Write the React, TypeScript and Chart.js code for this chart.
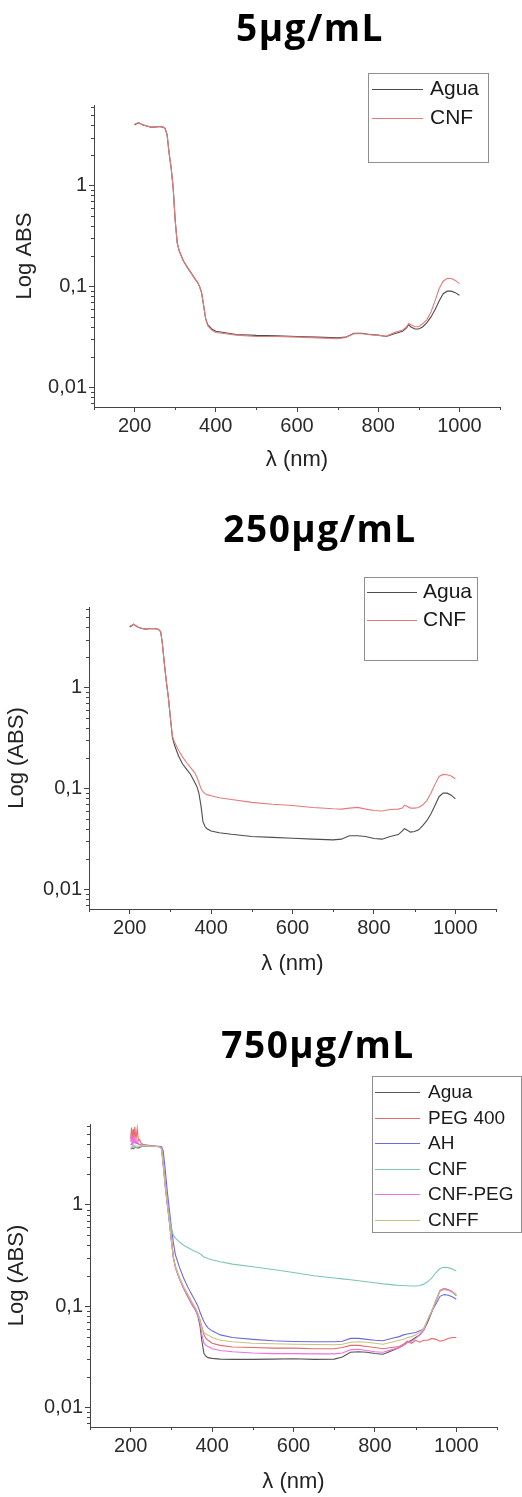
import React, { useEffect, useRef } from 'react';
import { Chart, registerables } from 'chart.js';

Chart.register(...registerables);

const FONT = '"Liberation Sans", Arial, sans-serif';

// ---------- data ----------
const X_MAJOR = [200, 400, 600, 800, 1000];
const Y_MAJOR = [0.01, 0.1, 1];
const Y_LABELS = ['0,01', '0,1', '1'];

const WL_5 = [200,205,210,215,220,230,240,250,260,270, 275,280,285,290,295,300,305,310, 320,330,340,350, 355,360,365,370,375,380, 390,400, 420,450,500,550,600,650,700, 720,740,760,780,800,820,840,860, 870,875,880,890,900, 910,920,930,940,950,960,970,980,990,1000];
const AGUA_5 = [4.0,4.1,4.2,4.1,4.0,3.9,3.8,3.8,3.85,3.8, 3.7,3.2,2.1,1.5,0.95,0.45,0.27,0.225, 0.18,0.155,0.135,0.117, 0.11,0.1,0.087,0.065,0.048,0.042, 0.038,0.036, 0.035,0.0335,0.0328,0.0325,0.032,0.0315,0.031, 0.0315,0.0345,0.0345,0.0335,0.033,0.032,0.034,0.036, 0.039,0.042,0.04,0.038,0.038, 0.04,0.044,0.05,0.059,0.072,0.085,0.09,0.09,0.087,0.082];
const CNF_5 = [4.05,4.15,4.2,4.1,4.0,3.9,3.8,3.8,3.85,3.8, 3.7,3.2,2.1,1.5,0.95,0.45,0.27,0.225, 0.18,0.155,0.135,0.117, 0.11,0.1,0.087,0.065,0.048,0.041, 0.037,0.035, 0.0343,0.033,0.032,0.032,0.0315,0.031,0.0305, 0.0312,0.034,0.034,0.0333,0.0328,0.0323,0.035,0.037, 0.04,0.043,0.042,0.04,0.04, 0.043,0.047,0.056,0.072,0.095,0.113,0.121,0.12,0.115,0.107];

const WL_250 = [200,205,210,215,220,230,240,250,260,270, 276,280,285,290,295,300,305,310, 320,330,340,350, 360,365,370,375,380,385, 390,400, 420,450,500,550,600,650,700, 720,740,760,780,800,820,840,860, 870,875,880,890,900, 910,920,930,940,950,960,970,980,990,1000];
const AGUA_250 = [4.0,4.1,4.25,4.1,4.0,3.85,3.8,3.85,3.85,3.8, 3.6,2.8,1.75,1.15,0.8,0.5,0.32,0.27, 0.21,0.175,0.155,0.137, 0.115,0.105,0.09,0.068,0.047,0.042, 0.04,0.038, 0.0365,0.0352,0.0335,0.0328,0.0322,0.0315,0.031, 0.0315,0.034,0.034,0.0335,0.032,0.0315,0.0335,0.035, 0.038,0.04,0.039,0.037,0.0375, 0.039,0.043,0.048,0.056,0.068,0.083,0.09,0.09,0.086,0.079];
const CNF_250 = [4.05,4.15,4.25,4.1,4.0,3.85,3.8,3.85,3.85,3.8, 3.6,2.8,1.75,1.15,0.8,0.5,0.33,0.29, 0.24,0.205,0.18,0.16, 0.143,0.13,0.115,0.1,0.093,0.089, 0.087,0.085, 0.081,0.078,0.073,0.07,0.068,0.065,0.063, 0.0625,0.064,0.065,0.0625,0.0605,0.06,0.062,0.0625, 0.064,0.068,0.067,0.064,0.064, 0.065,0.069,0.076,0.09,0.11,0.132,0.138,0.137,0.133,0.125];

const WL_750 = [200,202,204,206,208,210,213,216,219,222,225,230,240,250,260,270, 276,280,285,290,295,300,305,310, 320,330,340,350,360,365,370,375,380,385,390, 400,420,450,500,550,600,650,700, 720,740,760,780,800,820,840,860, 870,880,890,900,910,920,930,940,950,960,970,980,990,1000];
const AGUA_750 = [3.6,3.6,3.65,3.6,3.65,3.7,3.7,3.65,3.65,3.7,3.75,3.8,3.85,3.8,3.8,3.75, 3.6,2.6,1.6,1.05,0.7,0.45,0.3,0.24, 0.185,0.15,0.125,0.105,0.09,0.08,0.065,0.045,0.034,0.032,0.031, 0.0305,0.03,0.0298,0.0298,0.03,0.0302,0.0298,0.03, 0.0315,0.035,0.0355,0.035,0.034,0.0335,0.036,0.039, 0.041,0.044,0.046,0.049,0.052,0.058,0.07,0.088,0.112,0.142,0.148,0.145,0.138,0.127];
const PEG400_750 = [4.5,5.8,4.3,5.6,4.2,5.9,4.4,5.7,4.3,4.4,4.1,3.95,3.9,3.85,3.8,3.75, 3.6,2.4,1.5,1.0,0.68,0.44,0.3,0.245, 0.19,0.155,0.13,0.11,0.093,0.084,0.074,0.062,0.052,0.048,0.046, 0.043,0.041,0.0395,0.039,0.0385,0.0385,0.038,0.038, 0.039,0.041,0.041,0.04,0.039,0.038,0.039,0.04, 0.042,0.045,0.043,0.046,0.044,0.046,0.046,0.048,0.047,0.045,0.046,0.048,0.049,0.049];
const AH_750 = [3.9,4.0,4.1,4.2,4.3,4.2,4.1,4.05,4.0,3.95,3.9,3.9,3.85,3.85,3.8,3.8, 3.75,3.4,2.2,1.35,0.9,0.6,0.42,0.32, 0.24,0.19,0.155,0.13,0.11,0.1,0.088,0.078,0.07,0.065,0.061, 0.057,0.052,0.049,0.047,0.0455,0.0448,0.0445,0.0445, 0.045,0.048,0.048,0.047,0.046,0.0455,0.048,0.05, 0.052,0.053,0.054,0.055,0.057,0.06,0.072,0.09,0.105,0.125,0.13,0.128,0.124,0.117];
const CNF_750 = [3.6,3.65,3.7,3.65,3.7,3.75,3.7,3.7,3.75,3.75,3.8,3.8,3.85,3.8,3.8,3.75, 3.6,2.6,1.6,1.05,0.75,0.58,0.5,0.47, 0.43,0.4,0.38,0.36,0.345,0.338,0.33,0.318,0.305,0.3,0.295, 0.287,0.275,0.26,0.245,0.23,0.215,0.2,0.19, 0.186,0.182,0.178,0.174,0.17,0.166,0.163,0.16, 0.16,0.159,0.158,0.158,0.16,0.165,0.175,0.19,0.215,0.235,0.242,0.24,0.233,0.222];
const CNFPEG_750 = [4.2,5.0,4.0,4.6,4.1,4.4,4.1,4.3,4.0,3.95,3.9,3.9,3.85,3.8,3.8,3.75, 3.6,2.5,1.55,1.02,0.69,0.44,0.3,0.24, 0.185,0.15,0.125,0.105,0.09,0.081,0.07,0.052,0.043,0.041,0.04, 0.038,0.0365,0.0355,0.0345,0.034,0.034,0.0338,0.0338, 0.0345,0.037,0.0375,0.0365,0.0355,0.035,0.037,0.039, 0.041,0.044,0.045,0.048,0.052,0.058,0.074,0.09,0.115,0.143,0.15,0.146,0.14,0.13];
const CNFF_750 = [3.7,3.75,3.8,3.8,3.85,3.85,3.8,3.8,3.8,3.8,3.85,3.85,3.85,3.8,3.8,3.75, 3.6,2.5,1.55,1.02,0.7,0.45,0.3,0.245, 0.19,0.155,0.13,0.11,0.094,0.085,0.072,0.06,0.055,0.053,0.052, 0.049,0.046,0.0445,0.043,0.0425,0.042,0.0418,0.0415, 0.042,0.044,0.0445,0.044,0.043,0.042,0.044,0.046, 0.047,0.049,0.05,0.052,0.055,0.06,0.074,0.09,0.113,0.14,0.146,0.143,0.137,0.128];

const pts = (wl: number[], v: number[]) => wl.map((x, i) => ({ x, y: v[i] }));

// ---------- plugins ----------
const bigTitle = {
  id: 'bigTitle',
  afterDraw(chart: any, _a: any, o: any) {
    const ctx = chart.ctx;
    ctx.save();
    ctx.font = `bold ${o.size}px "Open Sans", sans-serif`;
    (ctx as any).letterSpacing = `${o.spacing}px`;
    ctx.fillStyle = '#000';
    ctx.textAlign = 'center';
    ctx.textBaseline = 'alphabetic';
    ctx.fillText(o.text, o.x, o.y);
    (ctx as any).letterSpacing = '0px';
    ctx.restore();
  },
};

const boxLegend = {
  id: 'boxLegend',
  afterDraw(chart: any, _a: any, o: any) {
    const ctx = chart.ctx;
    ctx.save();
    ctx.strokeStyle = '#8f8f8f';
    ctx.lineWidth = 1;
    ctx.strokeRect(o.x + 0.5, o.y + 0.5, o.w, o.h);
    ctx.font = `${o.size}px ${FONT}`;
    ctx.textBaseline = 'middle';
    ctx.textAlign = 'left';
    chart.data.datasets.forEach((ds: any, i: number) => {
      const y = Math.round(o.row0 + i * o.gap) + 0.5;
      ctx.strokeStyle = ds.borderColor;
      ctx.lineWidth = 1.2;
      ctx.beginPath();
      ctx.moveTo(o.lx1, y);
      ctx.lineTo(o.lx2, y);
      ctx.stroke();
      ctx.fillStyle = '#1a1a1a';
      ctx.fillText(ds.label, o.tx, y);
    });
    ctx.restore();
  },
};

const minorTicks = {
  id: 'minorTicks',
  afterDraw(chart: any) {
    const xs = chart.scales.x;
    const ys = chart.scales.y;
    const area = chart.chartArea;
    const ctx = chart.ctx;
    ctx.save();
    ctx.strokeStyle = '#444';
    ctx.lineWidth = 1;
    ctx.beginPath();
    for (let v = 100; v <= 1100; v += 100) {
      if (X_MAJOR.includes(v)) continue;
      const px = Math.round(xs.getPixelForValue(v)) + 0.5;
      ctx.moveTo(px, area.bottom);
      ctx.lineTo(px, area.bottom + 3);
    }
    for (let e = -3; e <= 0; e++) {
      for (let m = 2; m <= 9; m++) {
        const v = m * Math.pow(10, e);
        if (v < ys.min || v > ys.max) continue;
        const py = Math.round(ys.getPixelForValue(v)) + 0.5;
        ctx.moveTo(area.left - 3, py);
        ctx.lineTo(area.left, py);
      }
    }
    ctx.stroke();
    ctx.restore();
  },
};

// ---------- chart component ----------
type Cfg = {
  top: number;
  height: number;
  area: { left: number; top: number; right: number; bottom: number };
  yTitle: string;
  yTitlePad: number;
  xTitlePad: number;
  title: { text: string; x: number; y: number };
  legend: any;
  datasets: { label: string; color: string; data: { x: number; y: number }[] }[];
};

function SpectrumChart({ cfg }: { cfg: Cfg }) {
  const ref = useRef<HTMLCanvasElement | null>(null);
  useEffect(() => {
    if (!ref.current) return;
    const W = 522;
    const a = cfg.area;
    const chart = new Chart(ref.current, {
      type: 'line',
      data: {
        datasets: cfg.datasets.map((d, i) => ({
          label: d.label,
          data: d.data,
          borderColor: d.color,
          backgroundColor: d.color,
          borderWidth: 1.1,
          pointRadius: 0,
          tension: 0,
          fill: false,
          order: -i,
        })),
      },
      options: {
        responsive: false,
        animation: false,
        devicePixelRatio: 1,
        layout: { padding: { left: 0, top: a.top, right: W - a.right, bottom: 0 } },
        plugins: {
          legend: { display: false },
          title: { display: false },
          tooltip: { enabled: false },
          bigTitle: { text: cfg.title.text, x: cfg.title.x, y: cfg.title.y, size: 37, spacing: 1.5 },
          boxLegend: cfg.legend,
        } as any,
        scales: {
          x: {
            type: 'linear',
            min: 100,
            max: 1100,
            afterBuildTicks: (s: any) => {
              s.ticks = X_MAJOR.map((v) => ({ value: v }));
            },
            afterFit: (s: any) => {
              s.height = cfg.height - a.bottom;
            },
            ticks: {
              font: { size: 20, family: FONT },
              color: '#2b2b2b',
              padding: 2,
              maxRotation: 0,
              autoSkip: false,
              callback: (v: any) => String(v),
            },
            grid: { drawOnChartArea: false, drawTicks: true, tickLength: 5, color: '#444' },
            border: { display: true, color: '#444', width: 1 },
            title: {
              display: true,
              text: 'λ (nm)',
              font: { size: 22, family: FONT },
              color: '#222',
              padding: { top: 0, bottom: cfg.xTitlePad },
            },
          },
          y: {
            type: 'logarithmic',
            min: 0.0064,
            max: 6.3,
            afterBuildTicks: (s: any) => {
              s.ticks = Y_MAJOR.map((v) => ({ value: v }));
            },
            afterFit: (s: any) => {
              s.width = a.left;
            },
            ticks: {
              font: { size: 20, family: FONT },
              color: '#2b2b2b',
              padding: 2,
              autoSkip: false,
              callback: (v: any) => {
                const idx = Y_MAJOR.findIndex((m) => Math.abs(Math.log10(m) - Math.log10(Number(v))) < 1e-6);
                return idx >= 0 ? Y_LABELS[idx] : '';
              },
            },
            grid: { drawOnChartArea: false, drawTicks: true, tickLength: 5, color: '#444' },
            border: { display: true, color: '#444', width: 1 },
            title: {
              display: true,
              text: cfg.yTitle,
              font: { size: 22, family: FONT },
              color: '#222',
              padding: { top: cfg.yTitlePad, bottom: 0 },
            },
          },
        } as any,
      },
      plugins: [bigTitle, boxLegend, minorTicks] as any,
    });
    return () => chart.destroy();
  }, [cfg]);
  return (
    <canvas
      ref={ref}
      width={522}
      height={cfg.height}
      style={{ position: 'absolute', left: 0, top: cfg.top, width: 522, height: cfg.height, display: 'block' }}
    />
  );
}

const CFG_5: Cfg = {
  top: 0,
  height: 490,
  area: { left: 94, top: 105, right: 500, bottom: 407 },
  yTitle: 'Log ABS',
  yTitlePad: 12,
  xTitlePad: 17,
  title: { text: '5µg/mL', x: 310, y: 41 },
  legend: { x: 368, y: 73, w: 120, h: 89, row0: 89, gap: 29, lx1: 372, lx2: 423, tx: 430, size: 21 },
  datasets: [
    { label: 'Agua', color: '#4d4d4d', data: pts(WL_5, AGUA_5) },
    { label: 'CNF', color: '#e57b7b', data: pts(WL_5, CNF_5) },
  ],
};

const CFG_250: Cfg = {
  top: 490,
  height: 500,
  area: { left: 89, top: 117, right: 496, bottom: 419 },
  yTitle: 'Log (ABS)',
  yTitlePad: 4,
  xTitlePad: 13,
  title: { text: '250µg/mL', x: 320, y: 52 },
  legend: { x: 364, y: 87, w: 113, h: 83, row0: 102, gap: 28, lx1: 367, lx2: 417, tx: 423, size: 21 },
  datasets: [
    { label: 'Agua', color: '#4d4d4d', data: pts(WL_250, AGUA_250) },
    { label: 'CNF', color: '#e57b7b', data: pts(WL_250, CNF_250) },
  ],
};

const CFG_750: Cfg = {
  top: 990,
  height: 507,
  area: { left: 90, top: 134, right: 497, bottom: 437 },
  yTitle: 'Log (ABS)',
  yTitlePad: 4,
  xTitlePad: 2,
  title: { text: '750µg/mL', x: 318, y: 68 },
  legend: { x: 372, y: 86, w: 149, h: 156, row0: 102, gap: 25.5, lx1: 375, lx2: 420, tx: 428, size: 19 },
  datasets: [
    { label: 'Agua', color: '#555555', data: pts(WL_750, AGUA_750) },
    { label: 'PEG 400', color: '#e86a6a', data: pts(WL_750, PEG400_750) },
    { label: 'AH', color: '#6a6ae2', data: pts(WL_750, AH_750) },
    { label: 'CNF', color: '#7fc4b8', data: pts(WL_750, CNF_750) },
    { label: 'CNF-PEG', color: '#ee6fe8', data: pts(WL_750, CNFPEG_750) },
    { label: 'CNFF', color: '#c9c27e', data: pts(WL_750, CNFF_750) },
  ],
};

export default function App() {
  return (
    <div style={{ position: 'absolute', left: 0, top: 0, width: 522, height: 1497, background: '#fff' }}>
      <SpectrumChart cfg={CFG_5} />
      <SpectrumChart cfg={CFG_250} />
      <SpectrumChart cfg={CFG_750} />
    </div>
  );
}
